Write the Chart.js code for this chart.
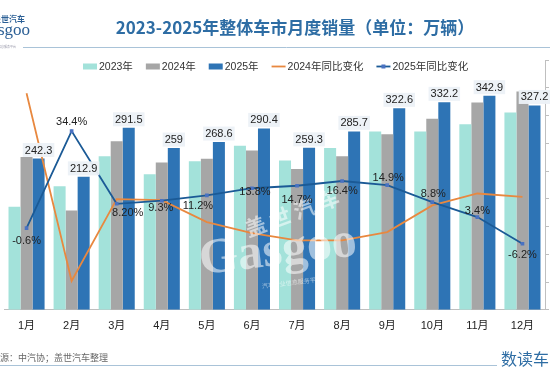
<!DOCTYPE html>
<html><head><meta charset="utf-8">
<script src="https://cdn.jsdelivr.net/npm/chart.js@4/dist/chart.umd.min.js"></script>
<style>html,body{margin:0;padding:0;background:#fff}#wrap{width:550px;height:378px;position:relative}</style>
</head><body><div id="wrap"><canvas id="c" width="550" height="378"></canvas></div>
<script>
const titleText = '2023-2025年整体车市月度销量（单位：万辆）';
const months = ['1月','2月','3月','4月','5月','6月','7月','8月','9月','10月','11月','12月'];
const sales2023 = [165.0,198.0,246.0,217.0,238.0,262.6,239.0,259.0,285.6,285.6,297.0,316.0];
const sales2024 = [244.6,159.0,269.7,236.0,242.0,255.0,225.6,246.0,281.0,306.0,332.0,349.7];
const sales2025 = [242.3,212.9,291.5,259,268.6,290.4,259.3,285.7,322.6,332.2,342.9,327.2];
const yoy2024 = [48.0,-19.6,9.9,9.5,1.6,-2.4,-5.0,-5.0,-2.0,7.6,11.9,10.7];
const yoy2025 = [-0.6,34.4,8.2,9.3,11.2,13.8,14.7,16.4,14.9,8.8,3.4,-6.2];
const yoy2025Labels = ['-0.6%','34.4%','8.20%','9.3%','11.2%','13.8%','14.7%','16.4%','14.9%','8.8%','3.4%','-6.2%'];
const legendNames = ['2023年','2024年','2025年','2024年同比变化','2025年同比变化'];
const sourceText = '来源：中汽协；盖世汽车整理';

const FONT = '"Liberation Sans", "Noto Sans CJK SC", sans-serif';
const C23 = '#A3E2DA', C24 = '#A6A6A6', C25 = '#2E74B5', CO = '#E8883F', CB = '#1B5A96', CM = '#4A72C2';
// label offsets (dx, dy) relative to each 2025 YoY point
const pctOffsets = [[0,13],[0,-9],[11,9],[-1,7],[-9,11],[3,4],[0,14],[0,10],[1,-7],[1,-8],[0,-6],[0,11]];

const decor = {
  id: 'decor',
  afterDatasetsDraw(chart) {
    const ctx = chart.ctx;
    // watermark
    ctx.save();
    ctx.globalAlpha = 0.55;
    ctx.fillStyle = '#ffffff';
    ctx.save();
    ctx.translate(292, 213);
    ctx.rotate(-0.35);
    ctx.font = 'bold 21px "Noto Sans CJK SC"';
    ctx.textAlign = 'center'; ctx.textBaseline = 'middle';
    ctx.fillText('盖 世 汽 车', 0, 0);
    ctx.restore();
    ctx.translate(278, 252);
    ctx.rotate(-0.12);
    ctx.textAlign = 'center'; ctx.textBaseline = 'middle';
    ctx.font = 'bold 50px "Liberation Serif", serif';
    ctx.fillText('Gasgoo', 0, 0);
    ctx.font = '6px "Noto Sans CJK SC"';
    ctx.fillText('汽车产业信息服务平台', 10, 32);
    ctx.restore();

    ctx.save();
    // bar value labels (2025)
    const m25 = chart.getDatasetMeta(4);
    ctx.font = '11px ' + FONT;
    ctx.textAlign = 'center'; ctx.textBaseline = 'middle';
    m25.data.forEach((bar, i) => {
      const txt = String(sales2025[i]);
      const w = ctx.measureText(txt).width + 4;
      const cy = bar.y - 8.5;
      ctx.fillStyle = 'rgba(236,241,247,0.95)';
      ctx.fillRect(bar.x - w / 2, cy - 7, w, 14);
      ctx.fillStyle = '#222';
      ctx.fillText(txt, bar.x, cy + 0.5);
    });
    // 2025 yoy labels
    const mL = chart.getDatasetMeta(0);
    mL.data.forEach((p, i) => {
      const [dx, dy] = pctOffsets[i];
      ctx.fillStyle = '#222';
      ctx.fillText(yoy2025Labels[i], p.x + dx, p.y + dy);
    });
    ctx.restore();
  },
  afterDraw(chart) {
    const ctx = chart.ctx;
    ctx.save();
    // logo
    ctx.fillStyle = '#2B5F95';
    ctx.textAlign = 'right'; ctx.textBaseline = 'middle';
    ctx.font = 'bold 8px "Noto Sans CJK SC"';
    ctx.fillText('盖世汽车', 25, 18.5);
    ctx.font = '17px "Liberation Serif", serif';
    ctx.fillText('Gasgoo', 30, 31);
    ctx.font = '3px "Noto Sans CJK SC"';
    ctx.fillStyle = '#99a';
    ctx.fillText('汽车产业信息服务平台', 16, 46.5);
    // title
    ctx.fillStyle = '#2E6DA4';
    ctx.textAlign = 'center';
    ctx.font = 'bold 17px "Noto Sans CJK SC"';
    ctx.fillText(titleText, 295, 28);
    // rule under title
    ctx.strokeStyle = '#A9C3D8'; ctx.lineWidth = 1;
    ctx.beginPath(); ctx.moveTo(23, 47.5); ctx.lineTo(550, 47.5); ctx.stroke();
    // legend
    ctx.font = '10.5px ' + FONT;
    ctx.textAlign = 'left';
    let x = 83; const ly = 66.5;
    const styles = [C23, C24, C25, CO, CB];
    legendNames.forEach((name, i) => {
      if (i < 3) {
        ctx.fillStyle = styles[i];
        ctx.fillRect(x, ly - 3, 14, 6);
      } else {
        ctx.strokeStyle = styles[i]; ctx.lineWidth = 1.8;
        ctx.beginPath(); ctx.moveTo(x, ly); ctx.lineTo(x + 14, ly); ctx.stroke();
        if (i === 4) { ctx.fillStyle = CM; ctx.fillRect(x + 5, ly - 2, 4, 4); }
      }
      ctx.fillStyle = '#333';
      ctx.fillText(name, x + 16, ly + 0.5);
      x += 16 + ctx.measureText(name).width + 13;
    });
    // source
    ctx.font = '9px "Noto Sans CJK SC"';
    ctx.fillStyle = '#666';
    ctx.fillText(sourceText, -9, 358);
    ctx.strokeStyle = '#A9C3D8'; ctx.lineWidth = 1;
    ctx.beginPath(); ctx.moveTo(0, 365.5); ctx.lineTo(497, 365.5); ctx.stroke();
    ctx.fillStyle = '#2E6DA4';
    ctx.font = '16px "Noto Sans CJK SC"';
    ctx.fillText('数读车', 501, 359);
    ctx.restore();
  }
};

new Chart(document.getElementById('c'), {
  type: 'bar',
  data: {
    labels: months,
    datasets: [
      { type: 'line', label: legendNames[4], data: yoy2025, yAxisID: 'y1', borderColor: CB, borderWidth: 1.8,
        pointStyle: 'rect', pointRadius: 2.6, pointBackgroundColor: CM, pointBorderColor: CM, pointBorderWidth: 0, tension: 0, order: 0 },
      { type: 'line', label: legendNames[3], data: yoy2024, yAxisID: 'y1', borderColor: CO, borderWidth: 1.8,
        pointRadius: 0, tension: 0, order: 1 },
      { label: legendNames[0], data: sales2023, backgroundColor: C23, yAxisID: 'y', order: 2 },
      { label: legendNames[1], data: sales2024, backgroundColor: C24, yAxisID: 'y', order: 2 },
      { label: legendNames[2], data: sales2025, backgroundColor: C25, yAxisID: 'y', order: 2 }
    ]
  },
  options: {
    responsive: false,
    animation: false,
    devicePixelRatio: 1,
    layout: { padding: { left: 3, right: 0, top: 60, bottom: 35 } },
    datasets: { bar: { categoryPercentage: 0.8, barPercentage: 1 } },
    plugins: { legend: { display: false }, title: { display: false }, tooltip: { enabled: false } },
    scales: {
      x: {
        grid: { display: false, drawTicks: false },
        border: { color: '#BFBFBF' },
        ticks: { font: { size: 11, family: FONT }, color: '#222', padding: 10 }
      },
      y: { display: false, min: 0, max: 400 },
      y1: {
        position: 'right', min: -30, max: 60,
        ticks: { display: false, stepSize: 10 },
        grid: { drawOnChartArea: false, color: '#BFBFBF', tickLength: 4 },
        border: { color: '#BFBFBF' },
        afterFit: s => { s.width = 5; }
      }
    }
  },
  plugins: [decor]
});
</script>
</body></html>
